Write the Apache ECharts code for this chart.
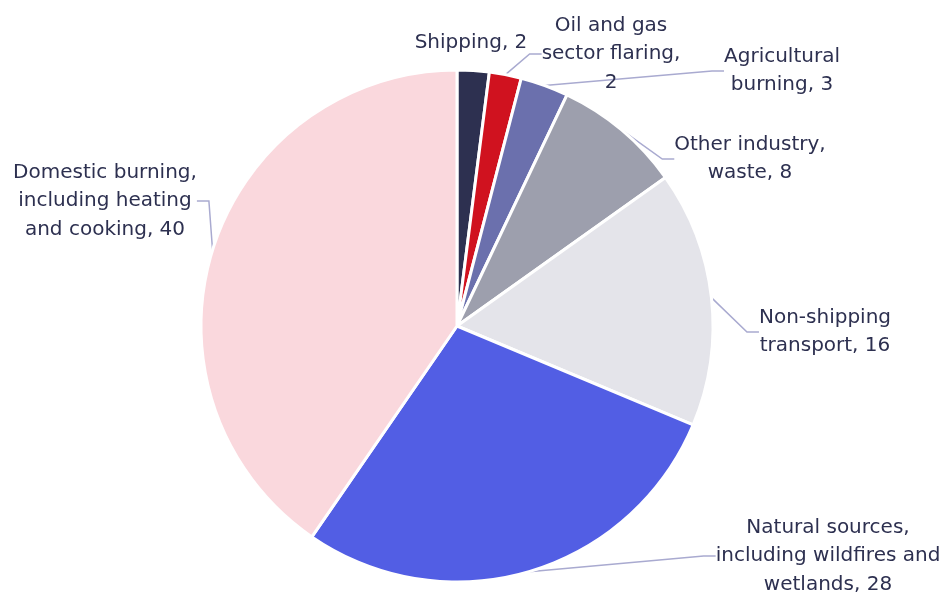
<!DOCTYPE html>
<html>
<head>
<meta charset="utf-8">
<title>Pie</title>
<script src="https://cdn.jsdelivr.net/npm/echarts@6/dist/echarts.min.js"></script>
<style>
	html, body { margin: 0; padding: 0; background: #ffffff; }
	#chart { width: 947px; height: 593px; }
</style>
</head>
<body>
<div id="chart"></div>
<script>
	// 数据
	var categories = [
		"Shipping",
		"Oil and gas\nsector flaring,",
		"Agricultural\nburning",
		"Other industry,\nwaste",
		"Non-shipping\ntransport",
		"Natural sources,\nincluding wildfires and\nwetlands",
		"Domestic burning,\nincluding heating\nand cooking"
	];
	var values = [2, 2, 3, 8, 16, 28, 40];

	// 样式
	var colors = ["#2d3050", "#d0121f", "#6b70ad", "#9d9fad", "#e4e4ea", "#525ee4", "#fad8dd"];
	var labelX = [471, 611, 782, 750, 825, 828, 105];
	var labelY = [43, 54, 71, 159, 332, 556, 201];

	var chart = echarts.init(document.getElementById("chart"), null, { renderer: "canvas" });

	var data = [];
	for(var i=0; i<values.length; i++)
	{
		var name = categories[i];
		// 名称已以逗号结尾的，直接换行接数值
		var text = (/,$/.test(name) ? name + "\n" + values[i] : name + ", " + values[i]);

		data.push({
			name: name,
			value: values[i],
			itemStyle: { color: colors[i] },
			label: { formatter: text },
			labelLine: { show: i !== 0 }
		});
	}

	var option =
	{
		backgroundColor: "#ffffff",
		animation: false,
		series: [
		{
			type: "pie",
			center: [457, 326],
			radius: [0, 256],
			startAngle: 90,
			clockwise: true,
			data: data,
			itemStyle: { borderColor: "#ffffff", borderWidth: 3 },
			label: {
				show: true,
				position: "outside",
				color: "#2d3050",
				fontFamily: "DejaVu Sans",
				fontSize: 20,
				lineHeight: 28.5,
				align: "center",
				overflow: "none"
			},
			labelLine: {
				show: true,
				length: 10,
				length2: 12,
				lineStyle: { color: "#a9aad0", width: 1.5 }
			},
			labelLayout: function(params)
			{
				var i = params.dataIndex;
				return {
					x: labelX[i],
					y: labelY[i],
					align: "center",
					verticalAlign: "middle"
				};
			}
		}]
	};

	chart.setOption(option);
</script>
</body>
</html>
